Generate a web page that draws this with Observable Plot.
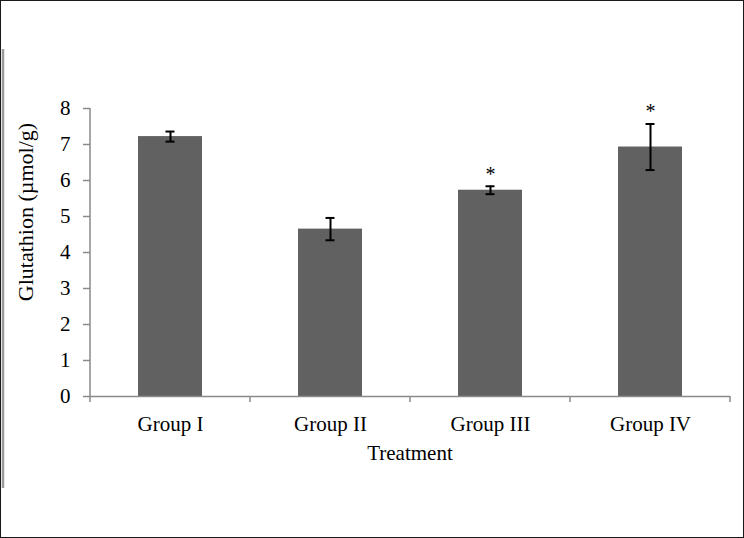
<!DOCTYPE html>
<html>
<head>
<meta charset="utf-8">
<script src="https://cdn.jsdelivr.net/npm/d3@7"></script>
<script src="https://cdn.jsdelivr.net/npm/@observablehq/plot@0.6"></script>
<style>
  html, body { margin: 0; padding: 0; background: white; }
</style>
</head>
<body>
<div id="chart"></div>
<script>
const groups = ["Group I", "Group II", "Group III", "Group IV"];
const means = [7.22, 4.65, 5.73, 6.93];
const errors = [0.14, 0.31, 0.11, 0.64];
const signif = ["", "", "*", "*"];
const yTicks = [0, 1, 2, 3, 4, 5, 6, 7, 8];
const xTitle = "Treatment";
const yTitle = "Glutathion (µmol/g)";

const data = groups.map((g, i) => ({group: g, mean: means[i], err: errors[i], sig: signif[i]}));

const axisGray = "#8a8a8a";

function decorations(index, scales, values, dims) {
  const {x, y} = scales;
  const g = d3.create("svg:g");
  // outer frame
  g.append("rect").attr("x", 0.5).attr("y", 0.5).attr("width", dims.width - 1).attr("height", dims.height - 1)
    .attr("fill", "none").attr("stroke", "#1a1a1a").attr("stroke-width", 1);
  g.append("line").attr("x1", 3).attr("x2", 3).attr("y1", 49).attr("y2", 488)
    .attr("stroke", "#9a9a9a").attr("stroke-width", 2.5);
  // y axis line
  const x0 = dims.marginLeft;
  g.append("line").attr("x1", x0).attr("x2", x0).attr("y1", y(yTicks[yTicks.length - 1])).attr("y2", y(0))
    .attr("stroke", axisGray).attr("stroke-width", 1.5);
  // category boundary ticks
  const bw = x.bandwidth();
  const step = x(groups[1]) - x(groups[0]);
  const gap = (step - bw) / 2;
  const bounds = groups.map(d => x(d) - gap).concat([x(groups[groups.length - 1]) + bw + gap]);
  for (const b of bounds) {
    g.append("line").attr("x1", b).attr("x2", b).attr("y1", y(0)).attr("y2", y(0) + 6)
      .attr("stroke", axisGray).attr("stroke-width", 1.5);
  }
  // axis titles
  g.append("text").attr("x", (dims.marginLeft + dims.width - dims.marginRight) / 2).attr("y", y(0) + 64)
    .attr("text-anchor", "middle").attr("fill", "black").attr("font-size", 21).text(xTitle);
  g.append("text").attr("transform", "translate(33,212) rotate(-90)")
    .attr("text-anchor", "middle").attr("fill", "black").attr("font-size", 22).text(yTitle);
  return g.node();
}

const chart = Plot.plot({
  width: 744,
  height: 538,
  marginLeft: 90,
  marginRight: 14,
  marginTop: 108,
  marginBottom: 142,
  x: {domain: groups, paddingInner: 0.6, paddingOuter: 0.3, label: null},
  y: {domain: [0, 8], label: null},
  style: {fontFamily: "'Liberation Serif', 'Times New Roman', serif", fontSize: "21px", background: "white", color: "black"},
  marks: [
    Plot.barY(data, {x: "group", y: "mean", fill: "#616161"}),
    Plot.ruleY([0], {stroke: axisGray, strokeWidth: 1.5}),
    Plot.axisY({ticks: yTicks, tickSize: 7, tickPadding: 13, stroke: axisGray, strokeWidth: 1.5, label: null, tickFormat: d => String(d)}),
    Plot.axisX({tickSize: 0, tickPadding: 20, label: null}),
    Plot.ruleX(data, {x: "group", y1: d => d.mean - d.err, y2: d => d.mean + d.err, stroke: "black", strokeWidth: 2}),
    Plot.tickY(data, {x: "group", y: d => d.mean + d.err, insetLeft: 27.5, insetRight: 27.5, stroke: "black", strokeWidth: 2}),
    Plot.tickY(data, {x: "group", y: d => d.mean - d.err, insetLeft: 27.5, insetRight: 27.5, stroke: "black", strokeWidth: 2}),
    Plot.text(data.filter(d => d.sig), {x: "group", y: d => d.mean + d.err, text: "sig", dy: -12, fontSize: 20, fill: "black"}),
    decorations
  ]
});
document.getElementById("chart").appendChild(chart);
</script>
</body>
</html>
